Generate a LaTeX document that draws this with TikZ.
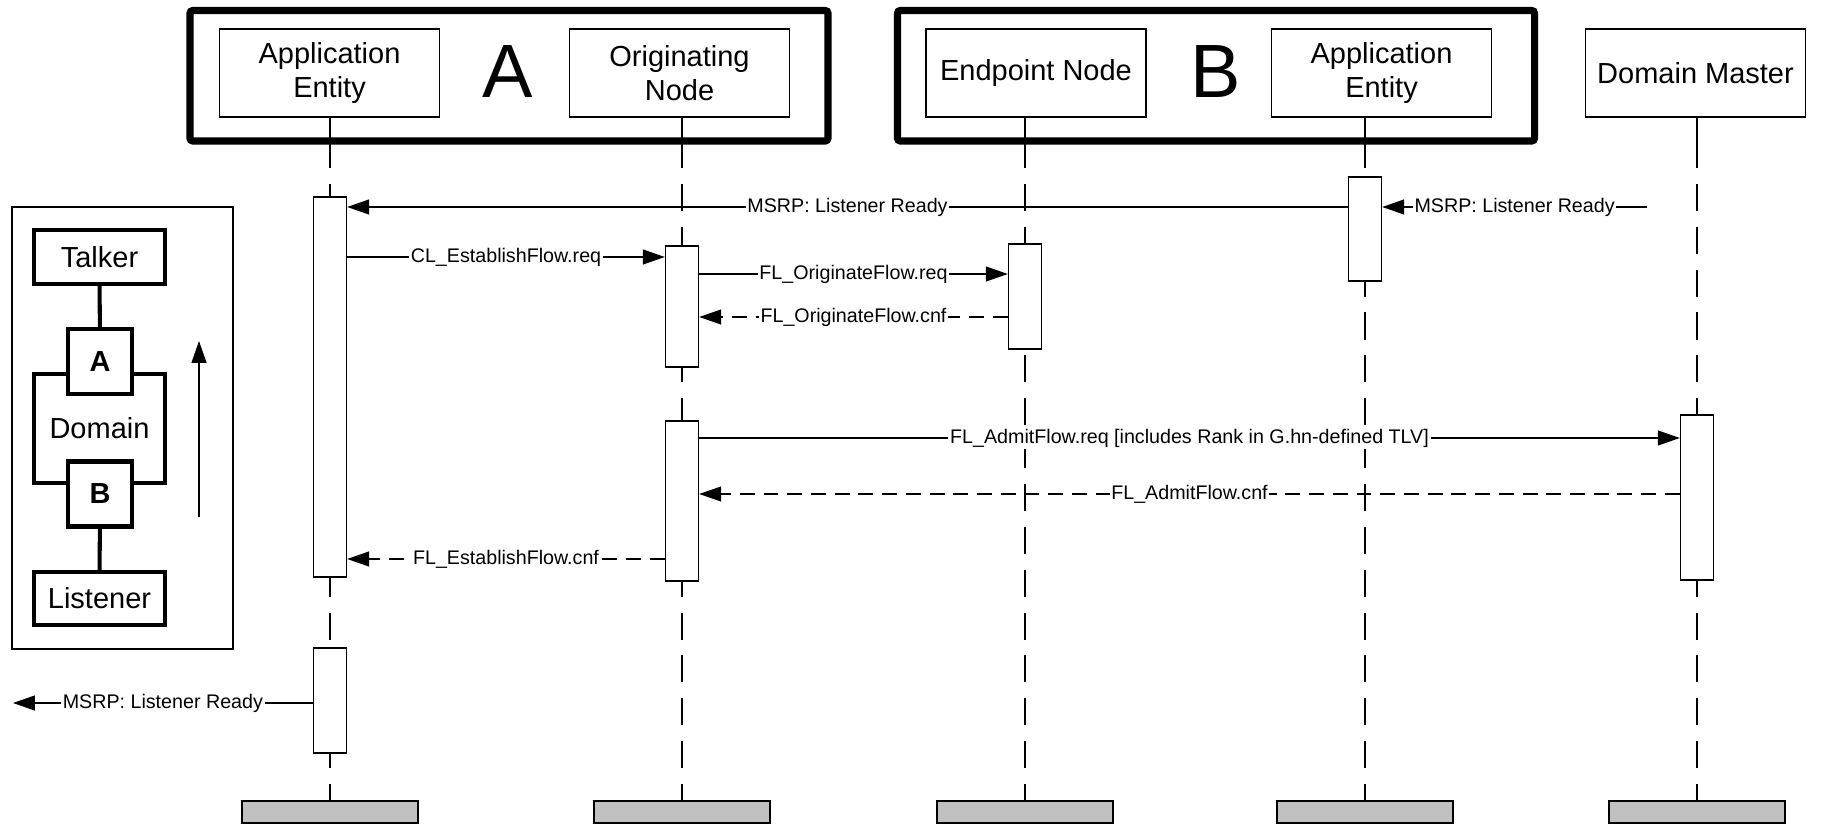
\documentclass[tikz,border=0pt]{standalone}
\usepackage{fontspec}
\setmainfont{Liberation Sans}
\usetikzlibrary{arrows.meta}
\definecolor{tailgray}{RGB}{192,192,192}

\begin{document}
\begin{tikzpicture}
	[x=0.02cm, y=-0.02cm, >={Triangle[length=12.5pt,width=8.5pt]},
	hdr/.style = {draw, line width=0.7pt, minimum width=44mm, minimum height=17.6mm, align=center, font=\fontsize{16.5pt}{19pt}\selectfont},
	grp/.style = {line width=4pt, rounded corners=1.5pt},
	big/.style = {font=\fontsize{43pt}{43pt}\selectfont},
	life/.style = {line width=0.7pt, dash pattern=on 15.4pt off 9pt},
	bar/.style = {draw, fill=white, line width=0.8pt, minimum width=6.6mm, inner sep=0pt},
	msg/.style = {->, line width=0.8pt},
	rsp/.style = {->, line width=0.8pt, dash pattern=on 8.5pt off 5pt},
	lbl/.style = {fill=white, inner sep=1pt, font=\fontsize{11.2pt}{13pt}\selectfont},
	tail/.style = {draw, fill=tailgray, line width=1pt, minimum width=35.2mm, minimum height=4.4mm, inner sep=0pt},
	leg/.style = {draw, fill=white, line width=2.3pt, inner sep=0pt, font=\fontsize{16.5pt}{18pt}\selectfont}]
	\useasboundingbox (0,0) rectangle (1822,827);
	\draw[grp] (190,10.5) rectangle (828,141);
	\draw[grp] (897.5,10.5) rectangle (1534.5,141);
	\node[hdr] (aeA) at (329.5,73) {Application\\Entity};
	\node[big] (A) at (508,72) {A};
	\node[hdr] (onA) at (679.5,73) {Originating\\Node};
	\node[hdr] (enB) at (1036,73) {Endpoint Node};
	\node[big] (B) at (1216,72) {B};
	\node[hdr] (aeB) at (1381.5,73) {Application\\Entity};
	\node[hdr] (dmB) at (1695.5,73) {Domain Master};
	\node[tail] (tA) at (330,812) {};
	\node[tail] (tO) at (682,812) {};
	\node[tail] (tE) at (1025,812) {};
	\node[tail] (tB) at (1365,812) {};
	\node[tail] (tD) at (1697,812) {};
	\coordinate (frm) at (0,141);
	\foreach \h/\t in {aeA/tA, onA/tO, enB/tE, aeB/tB, dmB/tD} {
		\draw[line width=0.7pt] (\h.south -| \t) -- (\t |- frm);
		\draw[life] (\t |- frm) -- (\t.north);
	}
	\node[bar, minimum height=76mm] (aA1) at (330,387) {};
	\node[bar, minimum height=21mm] (aA2) at (330,700.5) {};
	\node[bar, minimum height=24.2mm] (oN1) at (682,306.5) {};
	\node[bar, minimum height=32mm] (oN2) at (682,501) {};
	\node[bar, minimum height=21mm] (eN1) at (1025,296.5) {};
	\node[bar, minimum height=20.8mm] (aB1) at (1365,229) {};
	\node[bar, minimum height=33mm] (dM1) at (1697,497.5) {};
	\coordinate (r1) at (0,207);
	\coordinate (r2) at (0,257);
	\coordinate (r3) at (0,274);
	\coordinate (r4) at (0,317);
	\coordinate (r5) at (0,438);
	\coordinate (r6) at (0,494);
	\coordinate (r7) at (0,559);
	\coordinate (dmo) at (1647,207);
	\coordinate (out) at (13,703);
	\draw[msg] (aB1.west |- r1) -- node[lbl] {MSRP: Listener Ready} (aA1.east |- r1);
	\draw[msg] (dmo) -- node[lbl] {MSRP: Listener Ready} (aB1.east |- r1);
	\draw[msg] (aA1.east |- r2) -- node[lbl] {CL\_EstablishFlow.req} (oN1.west |- r2);
	\draw[msg] (oN1.east |- r3) -- node[lbl] {FL\_OriginateFlow.req} (eN1.west |- r3);
	\draw[rsp] (eN1.west |- r4) -- node[lbl] {FL\_OriginateFlow.cnf} (oN1.east |- r4);
	\draw[msg] (oN2.east |- r5) -- node[lbl] {FL\_AdmitFlow.req [includes Rank in G.hn-defined TLV]} (dM1.west |- r5);
	\draw[rsp] (dM1.west |- r6) -- node[lbl] {FL\_AdmitFlow.cnf} (oN2.east |- r6);
	\draw[rsp] (oN2.west |- r7) -- node[lbl] {FL\_EstablishFlow.cnf} (aA1.east |- r7);
	\draw[msg] (aA2.west |- out) -- node[lbl] {MSRP: Listener Ready} (out);
	\draw[line width=0.7pt] (12,207) rectangle (233,649);
	\node[leg, minimum width=26.2mm, minimum height=21.8mm] (dom) at (99.5,428.5) {Domain};
	\node[leg, minimum width=26.2mm, minimum height=10.8mm] (tlk) at (99.5,257) {Talker};
	\node[leg, minimum width=12.8mm, minimum height=13mm, font=\fontsize{16.5pt}{18pt}\selectfont\bfseries] (lgA) at (100,361.5) {A};
	\node[leg, minimum width=12.8mm, minimum height=13mm, font=\fontsize{16.5pt}{18pt}\selectfont\bfseries] (lgB) at (100,494) {B};
	\node[leg, minimum width=26.2mm, minimum height=10.6mm] (lis) at (99.5,598.5) {Listener};
	\draw[line width=2.3pt] (tlk) -- (lgA);
	\draw[line width=2.3pt] (lgB) -- (lis);
	\coordinate (ua) at (199,517);
	\coordinate (ub) at (199,341);
	\draw[->, line width=0.8pt] (ua) -- (ub);
\end{tikzpicture}
\end{document}
